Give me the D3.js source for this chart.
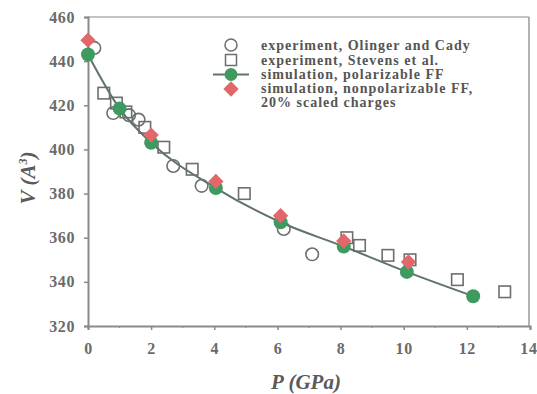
<!DOCTYPE html>
<html><head><meta charset="utf-8">
<script src="https://cdn.jsdelivr.net/npm/d3@7"></script>
<style>body{margin:0;background:#fff;}svg{display:block;}</style>
</head><body>
<script>
// Data
const olingerP = [0.2, 0.8, 1.3, 1.6, 2.7, 3.6, 6.2, 7.1];
const olingerV = [446, 416.5, 415.5, 413.5, 392.5, 383.5, 364, 352.5];
const stevensP = [0.5, 0.9, 1.2, 1.8, 2.4, 3.3, 4.95, 8.2, 8.6, 9.5, 10.2, 11.7, 13.2];
const stevensV = [425.5, 421, 417, 410, 401, 391, 380, 360, 356.5, 352, 350, 341, 335.5];
const polP = [0, 1.0, 2.0, 4.05, 6.1, 8.1, 10.1, 12.2];
const polV = [443, 418.5, 403, 382.5, 367, 356, 344.5, 333.5];
const nonpolP = [0, 2.0, 4.05, 6.1, 8.1, 10.15];
const nonpolV = [449.5, 406.5, 385.5, 370, 358.5, 349];
const xTicks = [0, 2, 4, 6, 8, 10, 12, 14];
const yTicks = [320, 340, 360, 380, 400, 420, 440, 460];
const legendLabels = ["experiment, Olinger and Cady", "experiment, Stevens et al.", "simulation, polarizable FF", "simulation, nonpolarizable FF,", "20% scaled charges"];

const W = 537, H = 394;
const m = {l: 88, t: 17, r: 529, b: 326};
const svg = d3.select("body").append("svg").attr("width", W).attr("height", H);
const x = d3.scaleLinear().domain([0, 14]).range([m.l, 530]);
const y = d3.scaleLinear().domain([320, 460]).range([m.b, m.t]);

const axisCol = "#8a8a8a", textCol = "#6a6a6a";
// frame top/right
svg.append("line").attr("x1", m.l).attr("x2", m.r).attr("y1", m.t).attr("y2", m.t).attr("stroke", "#a8b0b4").attr("stroke-width", 1.5);
svg.append("line").attr("x1", m.r).attr("x2", m.r).attr("y1", m.t).attr("y2", m.b).attr("stroke", "#9a9a9a").attr("stroke-width", 1.5);

const fontF = "'Liberation Serif','Times New Roman',serif";
const gx = svg.append("g").attr("transform", `translate(0,${m.b})`)
  .call(d3.axisBottom(x).tickValues(xTicks).tickFormat(d3.format("d")).tickSize(4).tickPadding(13));
const gy = svg.append("g").attr("transform", `translate(${m.l},0)`)
  .call(d3.axisLeft(y).tickValues(yTicks).tickFormat(d3.format("d")).tickSize(4).tickPadding(9));
[gx, gy].forEach(g => {
  g.select(".domain").attr("stroke", axisCol).attr("stroke-width", 2);
  g.selectAll(".tick line").attr("stroke", axisCol).attr("stroke-width", 1.5);
  g.selectAll(".tick text").attr("fill", textCol).attr("font-family", fontF).attr("font-size", 16)
    .attr("font-weight", "bold").attr("letter-spacing", 0.6);
});
// keep the last x label inside the page
gx.selectAll(".tick text").filter(d => d === 14).attr("text-anchor", "end").attr("dx", 7);
// minor x ticks
svg.append("g").selectAll("line").data(d3.range(1, 14, 2)).join("line")
  .attr("x1", d => x(d)).attr("x2", d => x(d)).attr("y1", m.b).attr("y2", m.b + 2)
  .attr("stroke", axisCol).attr("stroke-width", 1);

// axis titles
svg.append("text").attr("x", 306).attr("y", 389).attr("text-anchor", "middle")
  .attr("font-family", fontF).attr("font-size", 21).attr("font-weight", "bold").attr("font-style", "italic")
  .attr("fill", "#5a5a5a").text("P (GPa)");
const yt = svg.append("text").attr("transform", "translate(35,178) rotate(-90)").attr("text-anchor", "middle")
  .attr("font-family", fontF).attr("font-size", 21).attr("font-weight", "bold").attr("font-style", "italic")
  .attr("fill", "#5a5a5a");
yt.append("tspan").text("V (A");
yt.append("tspan").attr("dy", -8).attr("font-size", 12).text("3");
yt.append("tspan").attr("dy", 8).text(")");

const mk = "#6e6e6e";
const green = "#3f9a62", red = "#e2676a";
// Stevens squares
const sq = 11.5;
svg.append("g").selectAll("rect").data(stevensP.map((p, i) => [p, stevensV[i]])).join("rect")
  .attr("x", d => x(d[0]) - sq / 2).attr("y", d => y(d[1]) - sq / 2).attr("width", sq).attr("height", sq)
  .attr("fill", "none").attr("stroke", mk).attr("stroke-width", 1.6);
// Olinger circles
svg.append("g").selectAll("circle").data(olingerP.map((p, i) => [p, olingerV[i]])).join("circle")
  .attr("cx", d => x(d[0])).attr("cy", d => y(d[1])).attr("r", 6.3)
  .attr("fill", "none").attr("stroke", mk).attr("stroke-width", 1.6);
// polarizable line + points
const polData = polP.map((p, i) => [p, polV[i]]);
svg.append("path").datum(polData)
  .attr("d", d3.line().x(d => x(d[0])).y(d => y(d[1])).curve(d3.curveMonotoneX))
  .attr("fill", "none").attr("stroke", "#5f7466").attr("stroke-width", 2);
svg.append("g").selectAll("circle").data(polData).join("circle")
  .attr("cx", d => x(d[0])).attr("cy", d => y(d[1])).attr("r", 7)
  .attr("fill", green);
// nonpolarizable diamonds
const dsym = d3.symbol().type(d3.symbolDiamond2).size(150);
svg.append("g").selectAll("path").data(nonpolP.map((p, i) => [p, nonpolV[i]])).join("path")
  .attr("transform", d => `translate(${x(d[0])},${y(d[1])})`).attr("d", dsym).attr("fill", red);

// legend
const lx = 231, lty = [50, 65, 79, 93, 107];
const lg = svg.append("g");
lg.append("circle").attr("cx", lx).attr("cy", 45).attr("r", 6).attr("fill", "none").attr("stroke", mk).attr("stroke-width", 1.5);
lg.append("rect").attr("x", lx - 5.5).attr("y", 54.5).attr("width", 11).attr("height", 11).attr("fill", "none").attr("stroke", mk).attr("stroke-width", 1.5);
lg.append("line").attr("x1", lx - 18).attr("x2", lx + 18).attr("y1", 74.5).attr("y2", 74.5).attr("stroke", "#5f7466").attr("stroke-width", 2);
lg.append("circle").attr("cx", lx).attr("cy", 74.5).attr("r", 6.5).attr("fill", green);
lg.append("path").attr("transform", `translate(${lx},89)`).attr("d", dsym).attr("fill", red);
lg.selectAll("text").data(legendLabels).join("text")
  .attr("x", 261).attr("y", (d, i) => lty[i]).attr("font-family", fontF).attr("font-size", 14)
  .attr("font-weight", "bold").attr("letter-spacing", 1.0).attr("fill", "#555").text(d => d);
</script>
</body></html>
